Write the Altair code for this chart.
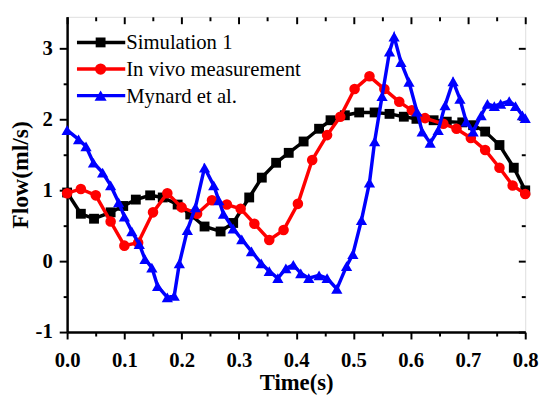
import altair as alt
import pandas as pd

series_names = ["Simulation 1", "In vivo measurement", "Mynard et al."]
series_colors = ["#000000", "#ff0000", "#0000ff"]
series_shapes = ["square", "circle", "triangle-up"]
series_sizes = [100, 130, 150]

sim_t = [0.0, 0.024, 0.047, 0.076, 0.098, 0.12, 0.145, 0.167, 0.193, 0.215, 0.24, 0.268, 0.29,
         0.318, 0.34, 0.365, 0.387, 0.413, 0.44, 0.46, 0.485, 0.51, 0.537, 0.563, 0.588, 0.61,
         0.64, 0.663, 0.69, 0.709, 0.73, 0.755, 0.78, 0.8]
sim_v = [0.97, 0.67, 0.6, 0.69, 0.78, 0.87, 0.93, 0.9, 0.8, 0.66, 0.49, 0.42, 0.54,
         0.9, 1.18, 1.39, 1.53, 1.69, 1.87, 1.99, 2.06, 2.1, 2.1, 2.08, 2.04, 2.01,
         1.99, 1.97, 1.96, 1.92, 1.83, 1.64, 1.32, 1.0]

viv_t = [0.0, 0.024, 0.05, 0.076, 0.1, 0.124, 0.15, 0.175, 0.2, 0.227, 0.253, 0.279, 0.303,
         0.327, 0.353, 0.378, 0.403, 0.428, 0.454, 0.477, 0.502, 0.528, 0.554, 0.58, 0.602,
         0.625, 0.657, 0.68, 0.705, 0.73, 0.755, 0.778, 0.8]
viv_v = [0.96, 1.02, 0.93, 0.56, 0.22, 0.26, 0.69, 0.96, 0.76, 0.67, 0.86, 0.8, 0.74,
         0.53, 0.3, 0.44, 0.81, 1.43, 1.78, 2.04, 2.43, 2.61, 2.43, 2.25, 2.13,
         2.02, 1.94, 1.87, 1.74, 1.57, 1.32, 1.07, 0.95]

myn_t = [0.0, 0.02, 0.033, 0.046, 0.062, 0.076, 0.09, 0.1, 0.113, 0.126, 0.136, 0.148, 0.158,
         0.175, 0.187, 0.196, 0.21, 0.224, 0.24, 0.256, 0.265, 0.273, 0.29, 0.305, 0.322,
         0.339, 0.353, 0.368, 0.382, 0.395, 0.408, 0.422, 0.44, 0.454, 0.471, 0.488, 0.499,
         0.514, 0.528, 0.537, 0.55, 0.563, 0.571, 0.583, 0.597, 0.611, 0.62, 0.634, 0.648,
         0.66, 0.674, 0.686, 0.697, 0.709, 0.723, 0.734, 0.746, 0.757, 0.772, 0.783, 0.795, 0.8]
myn_v = [1.85, 1.72, 1.62, 1.39, 1.25, 1.07, 0.83, 0.63, 0.42, 0.24, 0.03, -0.09, -0.35,
         -0.51, -0.49, -0.03, 0.44, 0.76, 1.32, 1.07, 0.86, 0.67, 0.46, 0.31, 0.14,
         -0.03, -0.14, -0.24, -0.1, -0.05, -0.17, -0.24, -0.2, -0.24, -0.39, -0.07, 0.1,
         0.58, 1.11, 1.69, 2.33, 2.96, 3.17, 2.81, 2.53, 2.11, 1.83, 1.67, 1.85,
         2.2, 2.54, 2.29, 1.97, 1.83, 2.06, 2.22, 2.19, 2.22, 2.26, 2.19, 2.06, 2.02]

x_major = [0.0, 0.1, 0.2, 0.3, 0.4, 0.5, 0.6, 0.7, 0.8]
x_minor = [0.05, 0.15, 0.25, 0.35, 0.45, 0.55, 0.65, 0.75]
y_major = [-1, 0, 1, 2, 3]
y_minor = [-0.5, 0.5, 1.5, 2.5]

rows = []
for name, ts, vs in zip(series_names, [sim_t, viv_t, myn_t], [sim_v, viv_v, myn_v]):
    for t, v in zip(ts, vs):
        rows.append({"series": name, "t": t, "flow": v})
df = pd.DataFrame(rows)

FONT = "Liberation Serif"
W, H = 465, 320

xscale = alt.Scale(domain=[0, 0.8], nice=False, zero=False)
yscale = alt.Scale(domain=[-1, 3.45], nice=False, zero=False)
color = alt.Color("series:N", scale=alt.Scale(domain=series_names, range=series_colors), legend=None)
shape = alt.Shape("series:N", scale=alt.Scale(domain=series_names, range=series_shapes), legend=None)
size = alt.Size("series:N", scale=alt.Scale(domain=series_names, range=series_sizes), legend=None)
order = alt.Order("t:Q")

tick_common = dict(tickColor="black", tickWidth=2, grid=False)

x_main_axis = alt.Axis(
    orient="bottom", values=x_major, title="Time(s)", format=".1f", tickSize=7,
    labelFontSize=21, labelFont=FONT, labelFontWeight="bold", labelColor="black",
    titleFontSize=23, titleFont=FONT, titleFontWeight="bold", titleColor="black",
    titlePadding=1, labelPadding=11, domainColor="black", domainWidth=2.5,
    labelFlush=False, labelOverlap=False, **tick_common,
)
y_main_axis = alt.Axis(
    orient="left", values=y_major, title="Flow(ml/s)", labelExpr="'' + datum.value", tickSize=8,
    labelFontSize=21, labelFont=FONT, labelFontWeight="bold", labelColor="black",
    titleFontSize=24, titleFont=FONT, titleFontWeight="bold", titleColor="black",
    titlePadding=3, labelPadding=7, domainColor="black", domainWidth=2.5,
    labelFlush=False, labelOverlap=False, **tick_common,
)
x_minor_axis = alt.Axis(orient="bottom", values=x_minor, title=None, labels=False, domain=False,
                        tickSize=4, **tick_common)
y_minor_axis = alt.Axis(orient="left", values=y_minor, title=None, labels=False, domain=False,
                        tickSize=4, **tick_common)
x_top_axis = alt.Axis(
    orient="bottom", offset=-H, values=x_major + x_minor, title=None, labels=False, domain=False,
    tickSize={"condition": {"test": "round(datum.value*100) % 10 != 0", "value": 4}, "value": 7},
    **tick_common,
)
y_right_axis = alt.Axis(
    orient="left", offset=-W, values=y_major + y_minor, title=None, labels=False, domain=False,
    tickSize={"condition": {"test": "round(datum.value*10) % 10 != 0", "value": 4}, "value": 7},
    **tick_common,
)

axis_sets = [
    (x_main_axis, y_main_axis),   # sim line
    (x_top_axis, y_right_axis),   # sim points
    (x_minor_axis, y_minor_axis), # vivo line
    (None, None), (None, None), (None, None),
]

layers = []
i = 0
for name in series_names:
    for kind in ["line", "point"]:
        ax, ay = axis_sets[i]
        i += 1
        base = alt.Chart(df).transform_filter(alt.datum.series == name)
        enc = dict(
            x=alt.X("t:Q", scale=xscale, axis=ax),
            y=alt.Y("flow:Q", scale=yscale, axis=ay),
            color=color,
        )
        if kind == "line":
            layers.append(base.mark_line(strokeWidth=3.5).encode(order=order, **enc))
        else:
            layers.append(base.mark_point(filled=True, opacity=1).encode(shape=shape, size=size, **enc))

# legend (inside plot, top-left)
leg_y = [26, 53, 80]
for name, col, shp, sz, yy in zip(series_names, series_colors, series_shapes, series_sizes, leg_y):
    ld = pd.DataFrame({"series": [name]})
    layers.append(alt.Chart(ld).mark_rule(color=col, strokeWidth=3.5).encode(
        x=alt.value(10), x2=alt.value(59), y=alt.value(yy)))
    layers.append(alt.Chart(ld).mark_point(filled=True, opacity=1, size=sz, color=col, shape=shp).encode(
        x=alt.value(34), y=alt.value(yy)))
    layers.append(alt.Chart(ld).mark_text(align="left", baseline="middle", font=FONT, fontSize=21,
                                           color="black", dy=1).encode(
        x=alt.value(60), y=alt.value(yy), text="series:N"))

chart = alt.layer(*layers).resolve_axis(x="independent", y="independent").properties(
    width=W, height=H,
    autosize=alt.AutoSizeParams(type="none"),
    padding={"left": 60, "top": 6, "right": 16, "bottom": 66},
).configure_view(stroke="black", strokeWidth=2.5).configure(background="white")

chart.save("out.html", embed_options={"renderer": "svg", "actions": False})
